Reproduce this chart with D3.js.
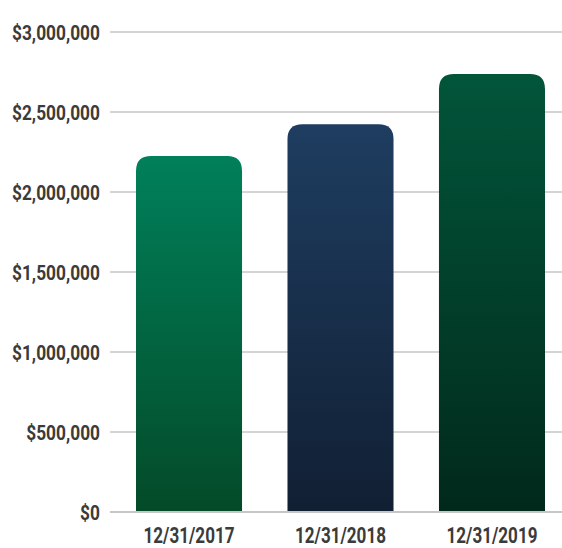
<!DOCTYPE html>
<html><head><meta charset="utf-8">
<script src="https://cdn.jsdelivr.net/npm/d3@7"></script>
<style>
html,body{margin:0;padding:0;background:#fff;}
text{font-family:Roboto,"DejaVu Sans",sans-serif;font-weight:bold;fill:#3b3b3b;}
</style>
</head><body>
<svg id="c" width="562" height="548"></svg>
<script>
const categories = ["12/31/2017", "12/31/2018", "12/31/2019"];
const values = [2225000, 2423000, 2738000];
const tickValues = [0, 500000, 1000000, 1500000, 2000000, 2500000, 3000000];
const gradientsTop = ["#00805A", "#1E3D60", "#02553A"];
const gradientsBottom = ["#044A28", "#111F33", "#01291B"];

const svg = d3.select("#c");
const y = d3.scaleLinear().domain([0, 3000000]).range([512, 32]);
const x = d3.scaleBand().domain(categories).range([136, 545]).paddingInner(0.3).paddingOuter(0);

const defs = svg.append("defs");
categories.forEach((c, i) => {
  const g = defs.append("linearGradient").attr("id", "g" + i)
    .attr("x1", 0).attr("y1", 0).attr("x2", 0).attr("y2", 1);
  g.append("stop").attr("offset", "0%").attr("stop-color", gradientsTop[i]);
  g.append("stop").attr("offset", "100%").attr("stop-color", gradientsBottom[i]);
});

const fmt = v => "$" + d3.format(",")(v);

function condense(sel, refWidth, refText) {
  let natural = 0;
  sel.each(function() { if (this.textContent === refText) natural = this.getComputedTextLength(); });
  const k = natural ? refWidth / natural : 0.8;
  sel.each(function() {
    const w = this.getComputedTextLength();
    d3.select(this).attr("textLength", w * k).attr("lengthAdjust", "spacingAndGlyphs");
  });
}

const yAxis = d3.axisLeft(y).tickValues(tickValues).tickFormat(fmt).tickSize(0).tickPadding(0);
const ga = svg.append("g").attr("transform", "translate(100,0)").call(yAxis);
ga.select(".domain").remove();
ga.selectAll("text").attr("font-size", 21).attr("dy", "0.35em").attr("x", 0);
condense(ga.selectAll("text"), 88, "$3,000,000");

svg.append("g").selectAll("line").data(tickValues).join("line")
  .attr("x1", 110).attr("x2", 562)
  .attr("y1", d => y(d)).attr("y2", d => y(d))
  .attr("stroke", "#c6c6c6").attr("stroke-width", d => d === 0 ? 2 : 1.5);

const r = 15;
svg.append("g").selectAll("path").data(values).join("path")
  .attr("fill", (d, i) => `url(#g${i})`)
  .attr("d", (d, i) => {
    const x0 = x(categories[i]), w = x.bandwidth(), yt = y(d), yb = y(0);
    return `M${x0},${yb}V${yt + r}Q${x0},${yt} ${x0 + r},${yt}H${x0 + w - r}Q${x0 + w},${yt} ${x0 + w},${yt + r}V${yb}Z`;
  });

svg.append("line").attr("x1", 110).attr("x2", 562).attr("y1", y(0)).attr("y2", y(0))
  .attr("stroke", "#c6c6c6").attr("stroke-width", 2);

const xAxis = d3.axisBottom(x).tickSize(0).tickPadding(0);
const gx = svg.append("g").attr("transform", "translate(0,527)").call(xAxis);
gx.select(".domain").remove();
gx.selectAll("text").attr("font-size", 22).attr("dy", "0.71em");
condense(gx.selectAll("text"), 91, "12/31/2017");
</script>
</body></html>
